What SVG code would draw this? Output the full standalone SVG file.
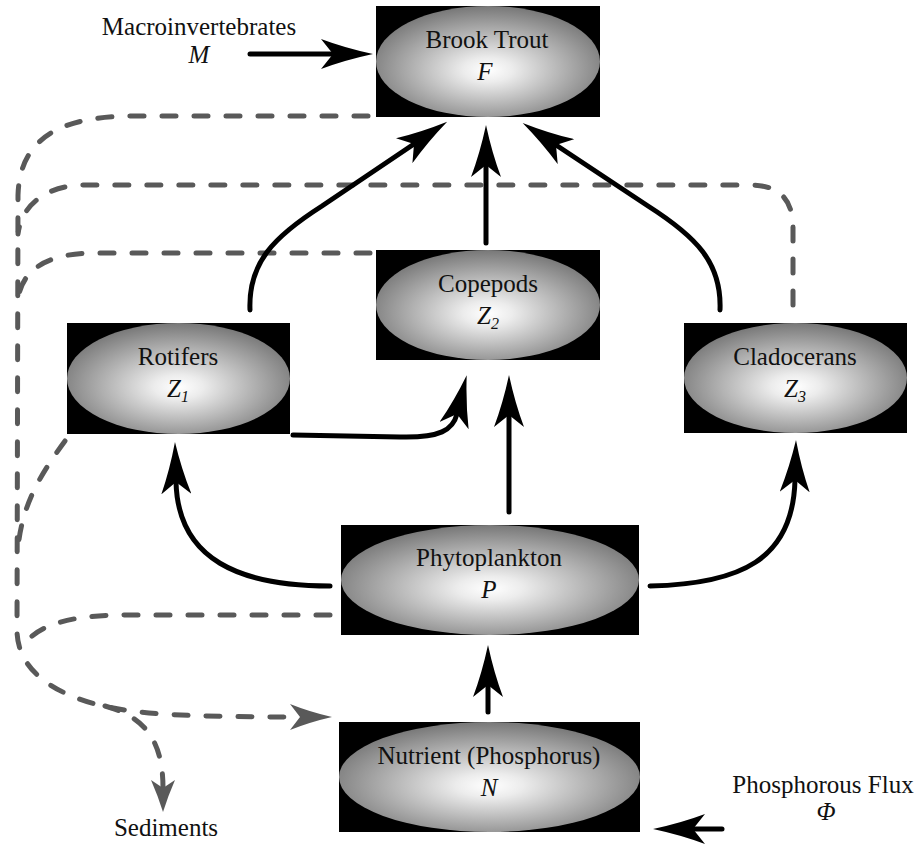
<svg xmlns="http://www.w3.org/2000/svg" width="922" height="849" viewBox="0 0 922 849">
<style>
text{font-family:"Liberation Serif","Times New Roman",serif;font-size:25px;fill:#111;text-anchor:middle}
.it{font-style:italic}
.sub{font-size:16px}
.box{fill:#000}
.ell{fill:url(#g)}
.arr{fill:none;stroke:#000;stroke-width:5;stroke-linecap:round;marker-end:url(#ah)}
.dash{fill:none;stroke:#595959;stroke-width:5;stroke-linecap:round;stroke-dasharray:14 18}
</style>
<defs>
<radialGradient id="g" cx="0.5" cy="0.56" r="0.55" fx="0.5" fy="0.58">
<stop offset="0" stop-color="#ffffff"/>
<stop offset="0.2" stop-color="#ececec"/>
<stop offset="1" stop-color="#7a7a7a"/>
</radialGradient>
<marker id="ah" markerUnits="userSpaceOnUse" markerWidth="52" markerHeight="30" viewBox="0 0 52 30" refX="12" refY="15" orient="auto">
<path d="M52,15 Q24,9 0,0 L12,15 L0,30 Q24,21 52,15 Z" fill="#000"/>
</marker>
<marker id="gh" markerUnits="userSpaceOnUse" markerWidth="42" markerHeight="26" viewBox="0 0 42 26" refX="10" refY="13" orient="auto">
<path d="M42,13 Q20,8 0,0 L10,13 L0,26 Q20,18 42,13 Z" fill="#595959"/>
</marker>
<marker id="gs" markerUnits="userSpaceOnUse" markerWidth="32" markerHeight="24" viewBox="0 0 32 24" refX="8" refY="12" orient="auto">
<path d="M32,12 Q16,7 0,0 L8,12 L0,24 Q16,17 32,12 Z" fill="#595959"/>
</marker>
</defs>

<g id="connectors">
<path class="dash" d="M368,116 L135,116 C65,116 20,135 18,195 L17,630 C17,665 45,690 95,704 C130,713 170,717 300,717" marker-end="url(#gh)"/>
<path class="dash" d="M793,305 L793,228 C793,200 780,185 750,185 L85,185 C50,185 22,202 18,234"/>
<path class="dash" d="M370,253 L95,253 C55,253 22,265 18,300"/>
<path class="dash" d="M65,441 C40,475 22,505 18,548"/>
<path class="dash" d="M330,615 L125,615 C70,615 35,625 22,648"/>
<path class="dash" d="M105,706 C140,716 163,735 163,788" marker-end="url(#gs)"/>

<path class="arr" d="M250,54 L333,54"/>
<path class="arr" d="M486,243 L486,165"/>
<path class="arr" d="M250,310 C248,262 275,236 322,206 L414,144"/>
<path class="arr" d="M720,310 C722,262 695,236 648,206 L556,145"/>
<path class="arr" d="M293,435 L400,437 C440,438 453,430 457,414"/>
<path class="arr" d="M509,512 L509,415"/>
<path class="arr" d="M488,712 L488,685"/>
<path class="arr" d="M330,586 C240,586 178,560 176,482"/>
<path class="arr" d="M650,586 C740,584 793,560 795,480"/>
<path class="arr" d="M722,829 L693,829"/>
</g>

<g id="brook-trout">
<rect class="box" x="376" y="6" width="224" height="111"/>
<ellipse class="ell" cx="488" cy="61.5" rx="112" ry="55.5"/>
<text x="487" y="48">Brook Trout</text>
<text class="it" x="485" y="80">F</text>
</g>
<g id="copepods">
<rect class="box" x="376" y="250" width="224" height="110"/>
<ellipse class="ell" cx="488" cy="305" rx="112" ry="55"/>
<text x="488" y="292">Copepods</text>
<text class="it" x="488" y="324">Z<tspan class="sub" dy="5">2</tspan></text>
</g>
<g id="rotifers">
<rect class="box" x="67" y="323" width="223" height="111"/>
<ellipse class="ell" cx="178.5" cy="378.5" rx="111.5" ry="55.5"/>
<text x="178" y="365">Rotifers</text>
<text class="it" x="178" y="397">Z<tspan class="sub" dy="5">1</tspan></text>
</g>
<g id="cladocerans">
<rect class="box" x="684" y="323" width="223" height="110"/>
<ellipse class="ell" cx="795.5" cy="378" rx="111.5" ry="55"/>
<text x="795" y="365">Cladocerans</text>
<text class="it" x="795" y="397">Z<tspan class="sub" dy="5">3</tspan></text>
</g>
<g id="phytoplankton">
<rect class="box" x="341" y="525" width="298" height="110"/>
<ellipse class="ell" cx="490" cy="580" rx="149" ry="55"/>
<text x="489" y="566">Phytoplankton</text>
<text class="it" x="489" y="598">P</text>
</g>
<g id="nutrient">
<rect class="box" x="339" y="722" width="301" height="110"/>
<ellipse class="ell" cx="489.5" cy="777" rx="150.5" ry="55"/>
<text x="489" y="764">Nutrient (Phosphorus)</text>
<text class="it" x="489" y="796">N</text>
</g>
<g id="macroinvertebrates">
<text x="199" y="35">Macroinvertebrates</text>
<text class="it" x="199" y="63">M</text>
</g>
<g id="phosphorous-flux">
<text x="823" y="793">Phosphorous Flux</text>
<text class="it" x="826" y="820">Φ</text>
</g>
<g id="sediments">
<text x="166" y="836">Sediments</text>
</g>
</svg>
